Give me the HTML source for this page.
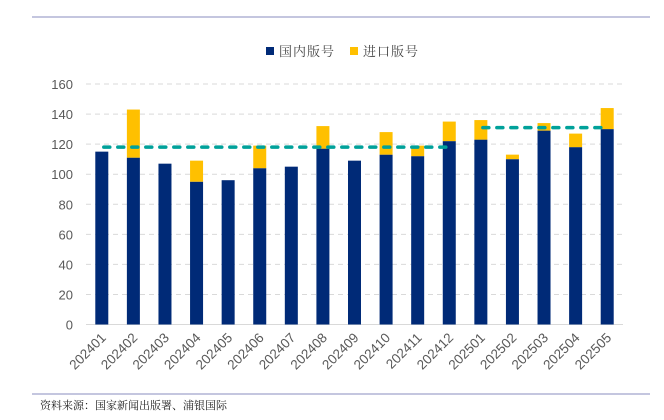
<!DOCTYPE html>
<html><head><meta charset="utf-8"><style>
html,body{margin:0;padding:0;background:#fff;}
svg{display:block;}
text{font-family:"Liberation Sans","Noto Sans CJK SC",sans-serif;}
.cjk{font-family:"Liberation Serif","Noto Serif CJK SC",serif;}
</style></head><body>
<svg id="chart" width="664" height="420" xmlns="http://www.w3.org/2000/svg">
<line x1="32" y1="17" x2="650" y2="17" stroke="#a0a4cc" stroke-width="1.2"/>
<line x1="32" y1="394" x2="650" y2="394" stroke="#a0a4cc" stroke-width="1.2"/>
<text x="40" y="409" font-size="11" fill="#222" class="cjk">资料来源：国家新闻出版署、浦银国际</text>
<g>
<rect x="266" y="47" width="8" height="8" fill="#002a77"/>
<text x="279" y="56" font-size="13" fill="#444" class="cjk" letter-spacing="1">国内版号</text>
<rect x="350" y="47" width="8" height="8" fill="#ffc000"/>
<text x="363" y="56" font-size="13" fill="#444" class="cjk" letter-spacing="1">进口版号</text>
</g>
<g id="grid"></g><g id="bars"></g><g id="avg"></g><g id="labels"></g>
</svg>
<script>
const categories=["202401","202402","202403","202404","202405","202406","202407","202408","202409","202410","202411","202412","202501","202502","202503","202504","202505"];
const domestic=[115,111,107,95,96,104,105,117,109,113,112,122,123,110,129,118,130];
const imported=[0,32,0,14,0,15,0,15,0,15,7,13,13,3,5,9,14];
const yTicks=[0,20,40,60,80,100,120,140,160];
const avg2024=118, avg2025=131;
const NS="http://www.w3.org/2000/svg";
const x0=86,x1=623,y0=324.5,yTop=84;
const step=(x1-x0)/categories.length;
const xc=i=>x0+step*(i+0.5);
const ys=v=>y0-(v/160)*(y0-yTop);
function mk(tag,attrs,parent){const e=document.createElementNS(NS,tag);for(const k in attrs)e.setAttribute(k,attrs[k]);document.getElementById(parent).appendChild(e);return e;}
yTicks.forEach(t=>{
  if(t>0){const l=mk('line',{x1:x0,x2:x1,y1:ys(t),y2:ys(t),stroke:'#d9d9d9','stroke-dasharray':'5,4'},'grid');
  
  }
  const tx=mk('text',{x:73,y:ys(t)+5,'font-size':'13','text-anchor':'end',fill:'#595959'},'grid');
  tx.textContent=t;
  
  
});
const ax=mk('line',{x1:x0,x2:x1,y1:y0,y2:y0,stroke:'#d9d9d9'},'grid');


const bw=13;
categories.forEach((c,i)=>{
  const x=xc(i)-bw/2;
  const b=mk('rect',{x:x,y:ys(domestic[i]),width:bw,height:y0-ys(domestic[i]),fill:'#002a77'},'bars');
  
  
  if(imported[i]>0){
    const tot=domestic[i]+imported[i];
    const r=mk('rect',{x:x,y:ys(tot),width:bw,height:ys(domestic[i])-ys(tot),fill:'#ffc000'},'bars');
    
    
  }
  const t=mk('text',{x:xc(i)+5,y:y0+14,'font-size':'13.5','text-anchor':'end',fill:'#595959',transform:`rotate(-45 ${xc(i)+5} ${y0+14})`},'labels');
  t.textContent=c;
  
  
});
const a1=mk('line',{x1:xc(0)+2,x2:xc(11)-2,y1:ys(avg2024),y2:ys(avg2024),stroke:'#00a19a','stroke-width':'3.5','stroke-dasharray':'6,8','stroke-linecap':'round'},'avg');


const a2=mk('line',{x1:xc(12)+2,x2:xc(16)-2,y1:ys(avg2025),y2:ys(avg2025),stroke:'#00a19a','stroke-width':'3.5','stroke-dasharray':'6,8','stroke-linecap':'round'},'avg');


</script>
</body></html>
